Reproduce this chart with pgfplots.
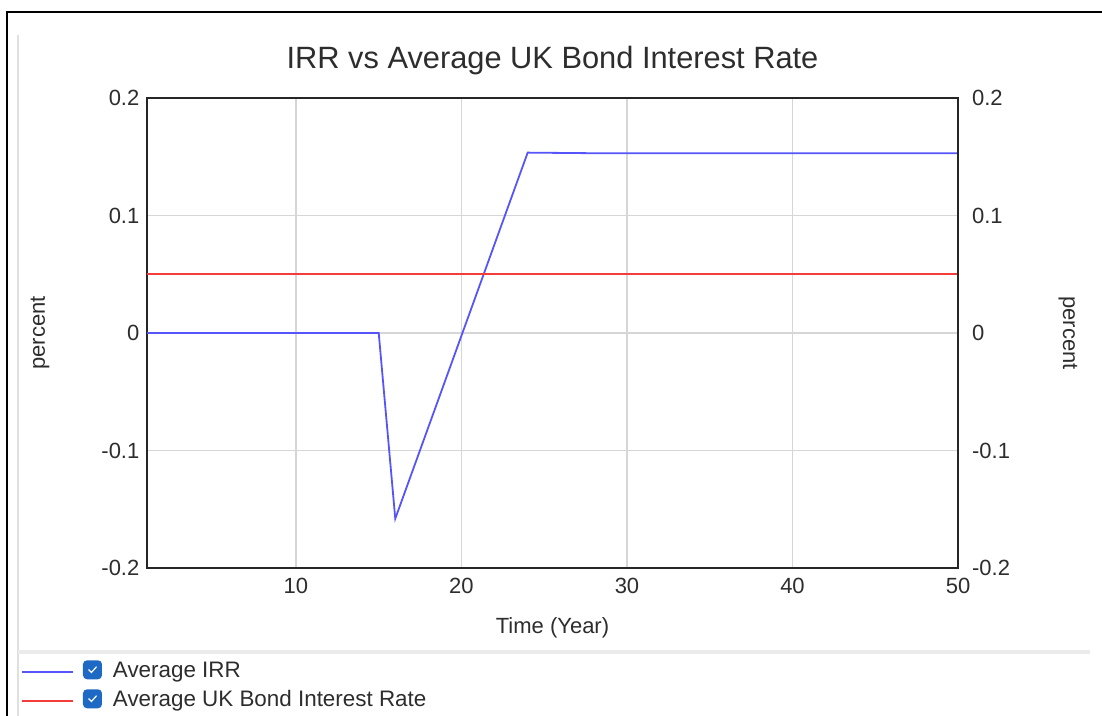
\documentclass[border=0pt]{standalone}
\usepackage{pgfplots}
\pgfplotsset{compat=1.18}
\usepackage{fontspec}
\setmainfont{Liberation Sans}
\definecolor{irrblue}{RGB}{85,85,250}
\definecolor{bondred}{RGB}{245,60,60}
\definecolor{chkblue}{RGB}{30,105,195}
\definecolor{txt}{RGB}{45,45,45}
\newcommand\chk{\tikz[baseline={(0pt,0.8pt)}]{\fill[chkblue,rounded corners=2pt] (0,0) rectangle (9.5pt,9.5pt);\draw[white,line width=0.6pt] (2.8pt,4.9pt) -- (4.2pt,3.4pt) -- (6.8pt,6.3pt);}}
\begin{document}
\begin{tikzpicture}
\path[use as bounding box] (0,0) rectangle (551pt,358pt);
% frame decorations
\draw[line width=1.3pt,black] (3.5pt,0pt) -- (3.5pt,352pt) -- (551pt,352pt);
\draw[line width=0.8pt,black!12] (9pt,0pt) -- (9pt,340.5pt);
\draw[line width=1.6pt,black!8] (9pt,32pt) -- (545pt,32pt);
\begin{axis}[
  at={(73.5pt,74pt)}, anchor=south west,
  scale only axis, width=405.5pt, height=235pt,
  xmin=1, xmax=50, ymin=-0.2, ymax=0.2,
  xtick={10,20,30,40,50}, xticklabels={10,20,30,40,50},
  ytick={-0.2,-0.1,0,0.1,0.2}, yticklabels={-0.2,-0.1,0,0.1,0.2},
  major tick length=0pt,
  grid=major, major grid style={color=black!16, line width=0.9pt},
  axis line style={line width=1.2pt, black!85},
  ticklabel style={font=\fontsize{11}{13}\selectfont, text=txt},
  xticklabel style={yshift=-1.5pt},
  yticklabel style={xshift=-0.3pt},
  title={IRR vs Average UK Bond Interest Rate},
  title style={at={(0.5,1)}, anchor=center, yshift=12.5pt, font=\fontsize{15.4}{18}\selectfont, text=txt},
  xlabel={Time (Year)},
  xlabel style={at={(axis description cs:0.5,0)}, anchor=center, yshift=-30pt, font=\fontsize{11}{13}\selectfont, text=txt},
  ylabel={percent},
  ylabel style={at={(axis description cs:-0.1319,0.5)}, anchor=center, font=\fontsize{11}{13}\selectfont, text=txt},
  legend style={at={(-0.1566,-0.19)}, anchor=north west, draw=none, fill=none, inner sep=0pt,
    font=\fontsize{11.2}{13}\selectfont, text=txt, row sep=0pt,
    nodes={text height=8pt, text depth=2.5pt}},
  legend cell align=left,
  legend image code/.code={\draw[#1,line width=1.3pt] (0pt,0pt) -- (25.5pt,0pt);},
]
\addplot[irrblue, line width=0.9pt] coordinates {(1,0) (15,0) (16,-0.158) (24,0.1535) (28,0.153) (50,0.153)};
\addlegendentry{\hspace{2.5pt}\chk\hspace{5.5pt}Average IRR}
\addplot[bondred, line width=0.9pt] coordinates {(1,0.05) (50,0.05)};
\addlegendentry{\hspace{2.5pt}\chk\hspace{5.5pt}Average UK Bond Interest Rate}
\end{axis}
\begin{axis}[
  at={(73.5pt,74pt)}, anchor=south west,
  scale only axis, width=405.5pt, height=235pt,
  xmin=1, xmax=50, ymin=-0.2, ymax=0.2,
  axis x line=none, axis y line*=right,
  ytick={-0.2,-0.1,0,0.1,0.2}, yticklabels={-0.2,-0.1,0,0.1,0.2},
  major tick length=0pt,
  axis line style={line width=1.2pt, black!85},
  ticklabel style={font=\fontsize{11}{13}\selectfont, text=txt},
  yticklabel style={xshift=3.5pt},
  ylabel={percent},
  ylabel style={at={(axis description cs:1.1356,0.5)}, anchor=center, rotate=180, font=\fontsize{11}{13}\selectfont, text=txt},
]
\end{axis}
\end{tikzpicture}
\end{document}
